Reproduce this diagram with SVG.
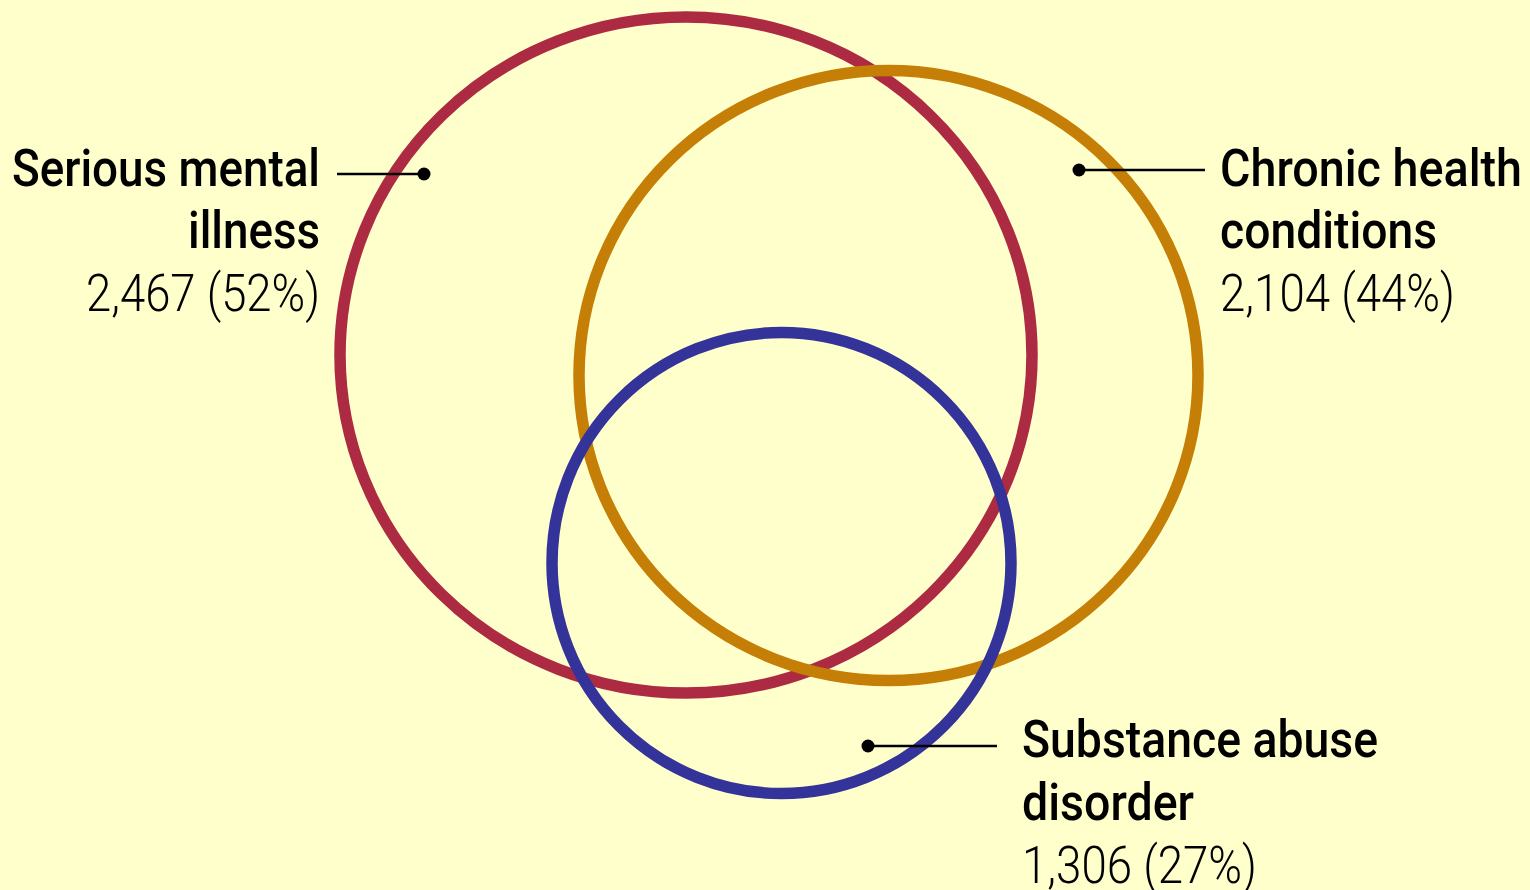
<svg xmlns="http://www.w3.org/2000/svg" width="1530" height="890" viewBox="0 0 1530 890">
<style>
.bg{fill:#FFFFCC}
.ring{fill:none;stroke-width:11.5}
.lbl{font-family:Roboto,"Liberation Sans",sans-serif;font-size:52px;fill:#000}
.b{font-weight:500}
.n{font-weight:300}
.lead{stroke:#000;stroke-width:2.5;fill:none}
.dot{fill:#000}
</style>
<rect class="bg" x="0" y="0" width="1530" height="890"/>
<g id="node-smi">
<ellipse class="ring" cx="686" cy="355" rx="346" ry="338" stroke="#AD2B42"/>
</g>
<g id="node-chronic">
<ellipse class="ring" cx="888.5" cy="375.5" rx="309.5" ry="305" stroke="#C57F06"/>
</g>
<g id="node-substance">
<ellipse class="ring" cx="781.5" cy="563" rx="229.5" ry="230.5" stroke="#343399"/>
</g>
<g id="connectors">
<line class="lead" x1="337" y1="174" x2="424" y2="174"/>
<circle class="dot" cx="424" cy="174" r="6.5"/>
<line class="lead" x1="1079" y1="170" x2="1205" y2="170"/>
<circle class="dot" cx="1079" cy="170" r="6.5"/>
<line class="lead" x1="868" y1="746" x2="997" y2="746"/>
<circle class="dot" cx="868" cy="746" r="6.5"/>
</g>
<g id="label-smi" class="lbl" text-anchor="end">
<text class="b" x="320" y="186" textLength="308" lengthAdjust="spacingAndGlyphs">Serious mental</text>
<text class="b" x="320" y="248" textLength="132" lengthAdjust="spacingAndGlyphs">illness</text>
<text class="n" x="320" y="311" textLength="234" lengthAdjust="spacingAndGlyphs">2,467 (52%)</text>
</g>
<g id="label-chronic" class="lbl">
<text class="b" x="1220" y="186" textLength="302" lengthAdjust="spacingAndGlyphs">Chronic health</text>
<text class="b" x="1220" y="248" textLength="217" lengthAdjust="spacingAndGlyphs">conditions</text>
<text class="n" x="1220" y="311" textLength="235" lengthAdjust="spacingAndGlyphs">2,104 (44%)</text>
</g>
<g id="label-substance" class="lbl">
<text class="b" x="1022" y="757" textLength="356" lengthAdjust="spacingAndGlyphs">Substance abuse</text>
<text class="b" x="1022" y="820" textLength="172" lengthAdjust="spacingAndGlyphs">disorder</text>
<text class="n" x="1022" y="883" textLength="235" lengthAdjust="spacingAndGlyphs">1,306 (27%)</text>
</g>
</svg>
